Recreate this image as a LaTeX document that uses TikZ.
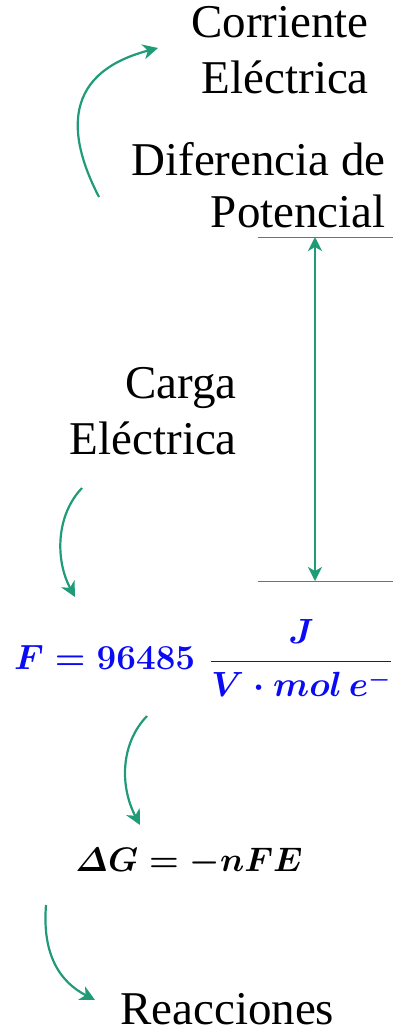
\RequirePackage{fix-cm}
\documentclass[tikz,border=0pt]{standalone}
\usepackage[no-math]{fontspec}
\setmainfont{Liberation Serif}
\usepackage{amsmath}
\usepackage{xcolor}
\usetikzlibrary{arrows.meta}
\definecolor{FlowGreen}{RGB}{32,155,120}
\definecolor{EqBlue}{RGB}{10,10,245}

\begin{document}
\begin{tikzpicture}[
x=1pt,y=1pt,
txt/.style={
inner sep=0pt,
align=right,
font=\fontsize{47}{56}\selectfont
},
eq/.style={
inner sep=0pt,
font=\fontsize{35}{42}\selectfont\boldmath
},
flow/.style={-{Stealth[length=15pt,width=15pt,inset=4.5pt]},line width=2.2pt,color=FlowGreen},
span/.style={{Stealth[length=14pt,width=14pt,inset=4pt]}-{Stealth[length=14pt,width=14pt,inset=4pt]},line width=2pt,color=FlowGreen},
guide/.style={line width=0.9pt,color=FlowGreen}
]
\useasboundingbox (0,-1031) rectangle (393,0);

\node[txt,anchor=north east] (corriente) at (369,-6) {Corriente\\Eléctrica};
\node[txt,anchor=north east,font=\fontsize{47}{52}\selectfont] (diferencia) at (386,-142) {Diferencia de\\Potencial};
\node[txt,anchor=north east] (carga) at (237,-367) {Carga\\Eléctrica};
\node[eq,text=EqBlue] (faraday) at (203,-658) {$F = 96485\hspace{15pt}\dfrac{J}{V\cdot mol\,e^{-}}$};
\node[eq,font=\fontsize{34}{40}\selectfont\boldmath] (gibbs) at (189,-862) {$\varDelta G = -nFE$};
\node[txt,anchor=base west] (reacciones) at (120,-1024) {Reacciones};

% potential span
\coordinate (guide-top-l) at (258,-237);
\coordinate (guide-top-r) at (393,-237);
\coordinate (guide-bot-l) at (258,-581);
\coordinate (guide-bot-r) at (393,-581);
\coordinate (span-top) at (315,-237);
\coordinate (span-bot) at (315,-581);
\draw[guide] (guide-top-l) -- (guide-top-r);
\draw[guide] (guide-bot-l) -- (guide-bot-r);
\draw[span] (span-top) -- (span-bot);

% curved arrows
\coordinate (arc1-start) at (99,-197);
\coordinate (arc1-end) at (158,-48);
\coordinate (arc2-start) at (82,-488);
\coordinate (arc2-end) at (75,-597);
\coordinate (arc3-start) at (147,-716);
\coordinate (arc3-end) at (140,-825);
\coordinate (arc4-start) at (46,-905);
\coordinate (arc4-end) at (95,-1000);
\draw[flow] (arc1-start) .. controls +(-27,52) and +(-103,-27) .. (arc1-end);
\draw[flow] (arc2-start) .. controls +(-26,-27) and +(-20,37) .. (arc2-end);
\draw[flow] (arc3-start) .. controls +(-27,-28) and +(-20,38) .. (arc3-end);
\draw[flow] (arc4-start) .. controls +(-4,-50) and +(-35,18) .. (arc4-end);
\end{tikzpicture}
\end{document}
